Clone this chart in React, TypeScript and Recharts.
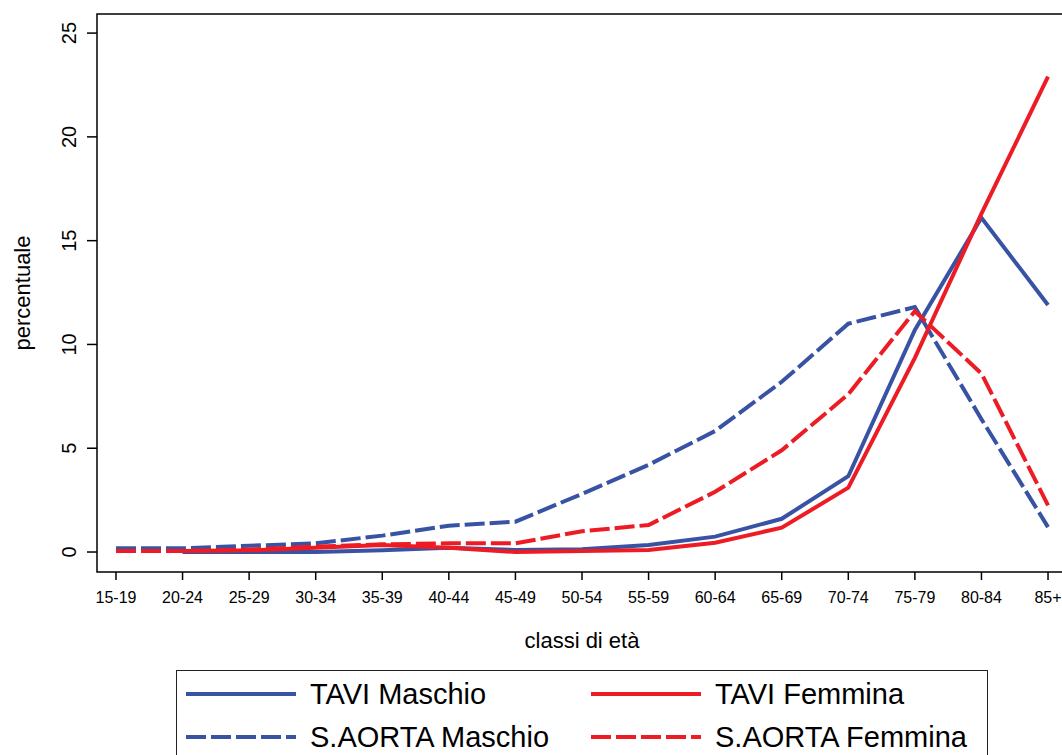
import React from "react"
import { LineChart, Line, XAxis, YAxis, Legend, ReferenceArea, Label } from "recharts"

// classi di età
const categories = ["15-19", "20-24", "25-29", "30-34", "35-39", "40-44", "45-49", "50-54", "55-59", "60-64", "65-69", "70-74", "75-79", "80-84", "85+"]

// percentuali
const taviMaschio = [null, 0, 0, 0, 0.08, 0.2, 0.1, 0.13, 0.34, 0.74, 1.6, 3.65, 10.7, 16.1, 11.9]
const taviFemmina = [null, 0.05, 0.08, 0.2, 0.34, 0.2, 0, 0.05, 0.1, 0.45, 1.17, 3.1, 9.35, 16.3, 22.9]
const aortaMaschio = [0.18, 0.18, 0.3, 0.42, 0.79, 1.27, 1.46, 2.8, 4.2, 5.83, 8.2, 11.0, 11.8, 6.4, 1.2]
const aortaFemmina = [0.05, 0.05, 0.12, 0.26, 0.37, 0.42, 0.42, 1.0, 1.3, 2.9, 4.9, 7.6, 11.6, 8.6, 2.25]

const yTicks = [0, 5, 10, 15, 20, 25]

const BLUE = "#3953A4"
const RED = "#ED1C24"
const FONT = "'Liberation Sans', Arial, sans-serif"
const DASH = "20 5"

const series = [
  { key: "taviM", name: "TAVI Maschio", color: BLUE, dash: undefined },
  { key: "taviF", name: "TAVI Femmina", color: RED, dash: undefined },
  { key: "aortaM", name: "S.AORTA Maschio", color: BLUE, dash: DASH },
  { key: "aortaF", name: "S.AORTA Femmina", color: RED, dash: DASH },
]

const rows = categories.map((c, i) => ({
  i,
  cat: c,
  taviM: taviMaschio[i],
  taviF: taviFemmina[i],
  aortaM: aortaMaschio[i],
  aortaF: aortaFemmina[i],
}))

const xDomain: [number, number] = [-0.285, 14.285]
const yDomain: [number, number] = [-0.963, 25.92]

function YTick(props: any) {
  const { x, y, payload } = props
  return (
    <text
      x={x}
      y={y}
      transform={`rotate(-90, ${x}, ${y})`}
      textAnchor="middle"
      fontSize={20}
      fontFamily={FONT}
      fill="#000"
    >
      {payload.value}
    </text>
  )
}

function LegendBox() {
  const item = (s: (typeof series)[number], left: number, top: number) => (
    <div key={s.key} style={{ position: "absolute", left, top, height: 30, display: "flex", alignItems: "center" }}>
      <svg width={110} height={8} style={{ display: "block" }}>
        <line x1={0} y1={4} x2={110} y2={4} stroke={s.color} strokeWidth={4} strokeDasharray={s.dash} />
      </svg>
      <span style={{ marginLeft: 14, fontSize: 29, fontFamily: FONT, color: "#000", whiteSpace: "nowrap" }}>{s.name}</span>
    </div>
  )
  return (
    <div
      style={{
        position: "relative",
        width: 812,
        height: 100,
        border: "1.5px solid #222",
        boxSizing: "border-box",
        background: "#fff",
      }}
    >
      {item(series[0], 9, 8)}
      {item(series[1], 414, 8)}
      {item(series[2], 9, 51)}
      {item(series[3], 414, 51)}
    </div>
  )
}

export default function App() {
  return (
    <div style={{ position: "absolute", left: 0, top: 0, width: 1062, height: 755, overflow: "hidden", background: "#fff" }}>
      <LineChart width={1080} height={755} data={rows} margin={{ top: 14, right: 13, left: 0, bottom: 0 }}>
        <XAxis
          dataKey="i"
          type="number"
          domain={xDomain}
          ticks={categories.map((_, i) => i)}
          tickFormatter={(v: number) => categories[v]}
          interval={0}
          height={183}
          axisLine={false}
          tickLine={{ stroke: "#000", strokeWidth: 1.5 }}
          tickSize={8}
          tickMargin={12}
          tick={{ fontSize: 16, fontFamily: FONT, fill: "#000" }}
          allowDataOverflow
        >
          <Label
            content={(p: any) => {
              const vb = p.viewBox
              return (
                <text x={vb.x + vb.width / 2} y={648} textAnchor="middle" fontSize={22} fontFamily={FONT} fill="#000">
                  classi di età
                </text>
              )
            }}
          />
        </XAxis>
        <YAxis
          type="number"
          domain={yDomain}
          ticks={yTicks}
          width={97}
          axisLine={false}
          tickLine={{ stroke: "#000", strokeWidth: 1.5 }}
          tickSize={10}
          tickMargin={11}
          tick={<YTick />}
          allowDataOverflow
        >
          <Label
            content={(p: any) => {
              const vb = p.viewBox
              const cy = vb.y + vb.height / 2
              return (
                <text x={30} y={cy} transform={`rotate(-90, 30, ${cy})`} textAnchor="middle" fontSize={22} fontFamily={FONT} fill="#000">
                  percentuale
                </text>
              )
            }}
          />
        </YAxis>
        <ReferenceArea x1={xDomain[0]} x2={xDomain[1]} y1={yDomain[0]} y2={yDomain[1]} fill="none" stroke="#000" strokeWidth={1.5} ifOverflow="visible" />
        <Line dataKey="taviM" name="TAVI Maschio" stroke={BLUE} strokeWidth={4} dot={false} isAnimationActive={false} />
        <Line dataKey="aortaM" name="S.AORTA Maschio" stroke={BLUE} strokeWidth={4} strokeDasharray={DASH} dot={false} isAnimationActive={false} />
        <Line dataKey="taviF" name="TAVI Femmina" stroke={RED} strokeWidth={4} dot={false} isAnimationActive={false} />
        <Line dataKey="aortaF" name="S.AORTA Femmina" stroke={RED} strokeWidth={4} strokeDasharray={DASH} dot={false} isAnimationActive={false} />
        <Legend
          layout="horizontal"
          verticalAlign="middle"
          align="center"
          wrapperStyle={{ left: 176, top: 670, width: 812, height: 100 }}
          content={() => <LegendBox />}
        />
      </LineChart>
    </div>
  )
}
